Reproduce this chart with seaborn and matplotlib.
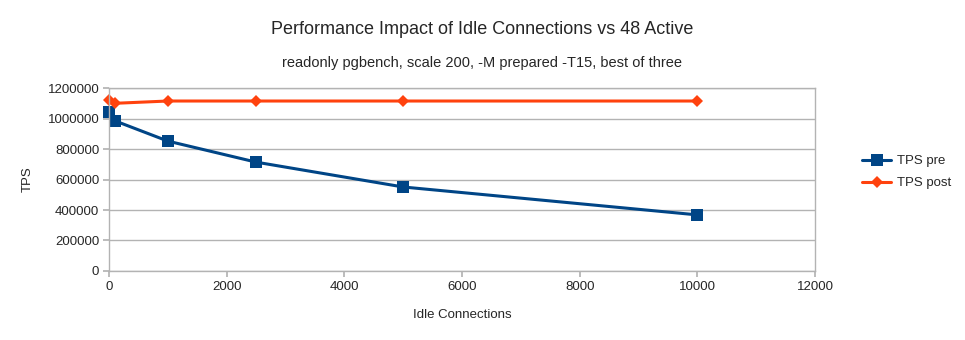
import matplotlib
matplotlib.use("Agg")
import matplotlib.pyplot as plt
import seaborn as sns
import pandas as pd

idle_connections = [0, 100, 1000, 2500, 5000, 10000]
tps_pre = [1040000, 985000, 852000, 714000, 551000, 368000]
tps_post = [1122000, 1100000, 1115000, 1115000, 1115000, 1115000]
x_ticks = [0, 2000, 4000, 6000, 8000, 10000, 12000]
y_ticks = [0, 200000, 400000, 600000, 800000, 1000000, 1200000]

sns.set_theme(style="white")
plt.rcParams["font.family"] = ["Liberation Sans", "DejaVu Sans"]

df = pd.DataFrame({
    "Idle Connections": idle_connections * 2,
    "TPS": tps_pre + tps_post,
    "series": ["TPS pre"] * len(tps_pre) + ["TPS post"] * len(tps_post),
})

fig = plt.figure(figsize=(9.65, 3.4), dpi=100)
ax = fig.add_axes([0.113, 0.203, 0.7316, 0.538])

palette = {"TPS pre": "#004586", "TPS post": "#ff420e"}
sns.lineplot(data=df, x="Idle Connections", y="TPS", hue="series",
             style="series", markers={"TPS pre": "s", "TPS post": "D"},
             dashes=False, palette=palette, linewidth=2.2, markersize=8,
             markeredgewidth=0, ax=ax)

# slimmer diamonds for the post series
for line in ax.get_lines():
    if line.get_marker() == "D":
        line.set_markersize(6.5)

ax.set_xlim(0, 12000)
ax.set_ylim(0, 1200000)
ax.set_xticks(x_ticks)
ax.set_yticks(y_ticks)
ax.set_xticklabels([str(v) for v in x_ticks], fontsize=9.5)
ax.set_yticklabels([str(v) for v in y_ticks], fontsize=9.5)
ax.yaxis.grid(True, color="#b3b3b3", linewidth=1)
ax.set_axisbelow(True)
for s in ax.spines.values():
    s.set_color("#b3b3b3")
    s.set_linewidth(1)
ax.tick_params(axis="both", length=4, color="#b3b3b3", pad=3, bottom=True, left=True)
for m in ax.get_lines():
    m.set_clip_on(False)

ax.set_xlabel("Idle Connections", fontsize=9.5, labelpad=12)
ax.set_ylabel("TPS", fontsize=9.5, labelpad=10)

fig.text(0.5, 0.912, "Performance Impact of Idle Connections vs 48 Active",
         ha="center", va="center", fontsize=13)
fig.text(0.5, 0.815, "readonly pgbench, scale 200, -M prepared -T15, best of three",
         ha="center", va="center", fontsize=10.5)

handles, labels = ax.get_legend_handles_labels()
for h in handles:
    if h.get_marker() == "D":
        h.set_markersize(6.5)
ax.legend(handles, labels, loc="center left", bbox_to_anchor=(1.05, 0.54),
          frameon=False, fontsize=9.5, handlelength=2.2, handletextpad=0.4,
          labelspacing=0.75)

fig.savefig("out.png", dpi=100)
